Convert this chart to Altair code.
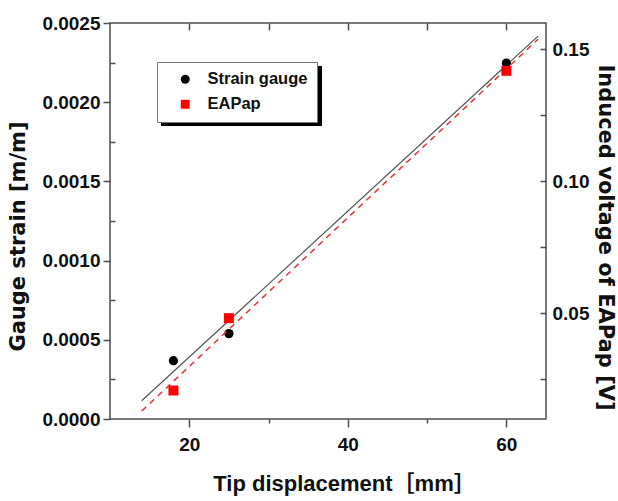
import altair as alt
import pandas as pd

# ---- data ----
tip_disp = [18, 25, 60]
strain = [0.000368, 0.000539, 0.002247]
voltage = [0.0208, 0.0482, 0.1419]
series_names = ["Strain gauge", "EAPap"]
fit_extent = [14, 64]

x_ticks = [20, 40, 60]
x_minor = [30, 50]
x_top = [20, 30, 40, 50, 60]
strain_ticks = [0.0, 0.0005, 0.0010, 0.0015, 0.0020, 0.0025]
strain_minor = [0.00025, 0.00075, 0.00125, 0.00175, 0.00225]
volt_ticks = [0.05, 0.10, 0.15]
volt_all = [0.025, 0.05, 0.075, 0.10, 0.125, 0.15]

df_s = pd.DataFrame({"x": tip_disp, "y": strain, "series": series_names[0]})
df_v = pd.DataFrame({"x": tip_disp, "y": voltage, "series": series_names[1]})
df_one = pd.DataFrame({"k": [0]})

W, H = 436, 396
FONT = "Liberation Sans"
TFONT = "DejaVu Sans"
AX = "#4d4d4d"

xscale = alt.Scale(domain=[10, 65], nice=False, zero=False)
sscale = alt.Scale(domain=[0, 0.0025], nice=False, zero=False)
vscale = alt.Scale(domain=[0.01, 0.16], nice=False, zero=False)

legend = alt.Legend(
    title=None, orient="none", legendX=47, legendY=39,
    fillColor="white", strokeColor="#777", padding=9,
    symbolOffset=11, labelOffset=14, rowPadding=8,
    labelFont=FONT, labelFontSize=16.5, labelFontWeight="bold", labelColor="#111",
    symbolSize=80, symbolStrokeWidth=0,
)
color = alt.Color("series:N", scale=alt.Scale(domain=series_names, range=["#000000", "#ff0000"]), legend=legend)
shape = alt.Shape("series:N", scale=alt.Scale(domain=series_names, range=["circle", "square"]), legend=legend)

x_main_axis = alt.Axis(
    orient="bottom", values=x_ticks, format="d", tickSize=8, labelPadding=8,
    title="Tip displacement［mm］", titleFont=FONT + ", Noto Sans CJK JP",
    titleFontSize=22, titleFontWeight="bold", titlePadding=19, titleColor="#111",
    titleX=234,
)
y_left_axis = alt.Axis(
    orient="left", values=strain_ticks, format=".4f", tickSize=7, labelPadding=3,
    title="Gauge strain [m/m]", titleFont=TFONT, titleFontSize=21,
    titleFontWeight="bold", titlePadding=13, titleY=213, titleColor="#111",
)
y_left_minor = alt.Axis(orient="right", offset=-W, values=strain_minor, tickSize=5,
                        labels=False, title=None)
y_right_axis = alt.Axis(
    orient="right", values=volt_ticks, format=".2f", ticks=False, tickSize=0, labelPadding=6,
    title="Induced voltage of EAPap [V]", titleFont=TFONT, titleFontSize=21,
    titleFontWeight="bold", titlePadding=6, titleY=214, titleColor="#111",
)
y_right_ticks = alt.Axis(orient="left", offset=-W, values=volt_all, tickSize=6,
                         labels=False, title=None)
x_top_ticks = alt.Axis(orient="bottom", offset=-H, values=x_top, tickSize=7,
                       labels=False, title=None)
x_minor_ticks = alt.Axis(orient="bottom", values=x_minor, tickSize=4,
                         labels=False, title=None)

strain_line = alt.Chart(df_s).transform_regression("x", "y", extent=fit_extent).mark_line(
    color="#555555", strokeWidth=1.2
).encode(x=alt.X("x:Q", scale=xscale, axis=None),
         y=alt.Y("y:Q", scale=sscale, axis=y_left_minor))
strain_pts = alt.Chart(df_s).mark_point(filled=True, size=85, opacity=1).encode(
    x=alt.X("x:Q", scale=xscale, axis=x_main_axis),
    y=alt.Y("y:Q", scale=sscale, axis=y_left_axis),
    color=color, shape=shape,
)
volt_line = alt.Chart(df_v).transform_regression("x", "y", extent=fit_extent).mark_line(
    color="#e8323a", strokeWidth=1.5, strokeDash=[6, 5]
).encode(x=alt.X("x:Q", scale=xscale, axis=None),
         y=alt.Y("y:Q", scale=vscale, axis=y_right_ticks))
volt_pts = alt.Chart(df_v).mark_point(filled=True, size=100, opacity=1).encode(
    x=alt.X("x:Q", scale=xscale, axis=None),
    y=alt.Y("y:Q", scale=vscale, axis=y_right_axis),
    color=color, shape=shape,
)

top_dummy = alt.Chart(df_s).mark_point(opacity=0).encode(
    x=alt.X("x:Q", scale=xscale, axis=x_top_ticks), y=alt.value(0))
minor_dummy = alt.Chart(df_s).mark_point(opacity=0).encode(
    x=alt.X("x:Q", scale=xscale, axis=x_minor_ticks), y=alt.value(0))

# legend box shadow (decoration)
shadow = alt.Chart(df_one).mark_rect(color="black").encode(
    x=alt.value(51), x2=alt.value(212), y=alt.value(43), y2=alt.value(103))

left = alt.layer(strain_line, strain_pts).resolve_axis(x="independent", y="independent")
right = alt.layer(volt_line, volt_pts).resolve_axis(x="independent", y="independent")

chart = alt.layer(shadow, left, right, top_dummy, minor_dummy).resolve_scale(
    y="independent"
).resolve_axis(x="independent", y="independent").properties(
    width=W, height=H,
    autosize=alt.AutoSizeParams(type="none"),
    padding={"left": 110, "top": 23, "right": 72, "bottom": 82},
    background="white",
).configure_view(
    stroke=AX, strokeWidth=1.5
).configure_axis(
    labelFont=FONT, labelFontSize=19, labelFontWeight="bold", labelColor="#111",
    tickColor=AX, tickWidth=1.5, grid=False, domain=False,
)

chart.save("out.html", embed_options={"renderer": "svg", "actions": False})
